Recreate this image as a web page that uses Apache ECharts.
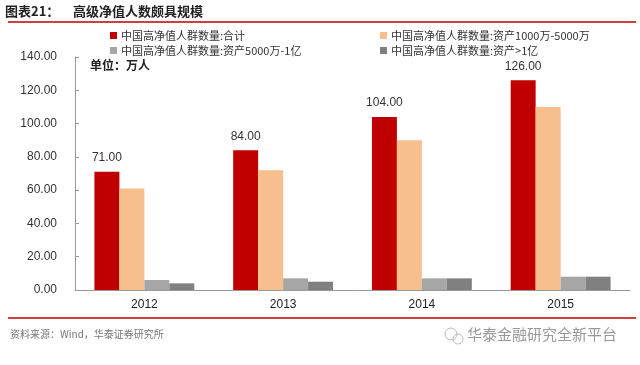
<!DOCTYPE html>
<html>
<head>
<meta charset="utf-8">
<script src="https://cdn.jsdelivr.net/npm/echarts@6/dist/echarts.min.js"></script>
<style>
html,body{margin:0;padding:0;background:#fff;}
#c{width:640px;height:365px;}
</style>
</head>
<body>
<div id="c"></div>
<script>
var categories = ['2012', '2013', '2014', '2015'];
var seriesNames = ['中国高净值人群数量:合计', '中国高净值人群数量:资产1000万-5000万', '中国高净值人群数量:资产5000万-1亿', '中国高净值人群数量:资产>1亿'];
var totalValues = [71, 84, 104, 126];
var band1000to5000 = [61, 72, 90, 110];
var band5000to1yi = [6, 7, 7, 8];
var bandAbove1yi = [4, 5, 7, 8];
var yTicks = [0, 20, 40, 60, 80, 100, 120, 140];
var colors = ['#C00000', '#F8BF8E', '#A6A6A6', '#808080'];

var chart = echarts.init(document.getElementById('c'), null, {renderer: 'canvas'});
var font = 'Liberation Sans, Arial, Noto Sans CJK SC, sans-serif';
var cjk = 'Noto Sans CJK SC, sans-serif';

function legendAt(name, left, top) {
  return {
    data: [name], left: left, top: top, itemWidth: 7, itemHeight: 7, itemGap: 4,
    icon: 'rect', padding: 0,
    textStyle: {fontSize: 11, color: '#333', fontFamily: cjk, padding: [0, 0, 0, -1]},
    selectedMode: false
  };
}

var option = {
  backgroundColor: '#fff',
  animation: false,
  color: colors,
  legend: [
    legendAt(seriesNames[0], 110, 30),
    legendAt(seriesNames[1], 380, 30),
    legendAt(seriesNames[2], 110, 45),
    legendAt(seriesNames[3], 380, 45)
  ],
  grid: {left: 75, right: 10, top: 57, bottom: 75, containLabel: false},
  xAxis: {
    type: 'category', data: categories,
    axisLine: {lineStyle: {color: '#999', width: 1}},
    axisTick: {inside: true, length: 4, lineStyle: {color: '#999'}},
    axisLabel: {color: '#222', fontSize: 12, fontFamily: font, margin: 9}
  },
  yAxis: {
    type: 'value', min: yTicks[0], max: yTicks[yTicks.length - 1], interval: 20,
    axisLine: {show: true, lineStyle: {color: '#999', width: 1}},
    axisTick: {show: true, inside: true, length: 4, lineStyle: {color: '#999'}},
    splitLine: {show: false},
    axisLabel: {color: '#333', fontSize: 12, fontFamily: font, margin: 18,
      formatter: function (v) { return v.toFixed(2); }}
  },
  series: [
    {name: seriesNames[0], type: 'bar', data: totalValues, barGap: '0%', barCategoryGap: '28%',
      label: {show: true, position: 'top', distance: 8, color: '#333', fontSize: 12, fontFamily: font,
        formatter: function (p) { return p.value.toFixed(2); }}},
    {name: seriesNames[1], type: 'bar', data: band1000to5000, barGap: '0%', barCategoryGap: '28%'},
    {name: seriesNames[2], type: 'bar', data: band5000to1yi, barGap: '0%', barCategoryGap: '28%'},
    {name: seriesNames[3], type: 'bar', data: bandAbove1yi, barGap: '0%', barCategoryGap: '28%'}
  ],
  graphic: [
    {type: 'text', left: 5, top: 5, style: {text: '图表21：', font: 'bold 13px ' + cjk, fill: '#222'}},
    {type: 'text', left: 73, top: 5, style: {text: '高级净值人数颇具规模', font: 'bold 13px ' + cjk, fill: '#222'}},
    {type: 'line', shape: {x1: 8, y1: 22, x2: 636, y2: 22}, style: {stroke: '#C00000', lineWidth: 1.5}},
    {type: 'text', left: 90, top: 59, style: {text: '单位：万人', font: 'bold 12px ' + cjk, fill: '#222'}},
    {type: 'line', shape: {x1: 8, y1: 318, x2: 636, y2: 318}, style: {stroke: '#C00000', lineWidth: 1.5}},
    {type: 'text', left: 10, top: 329, style: {text: '资料来源：Wind，华泰证券研究所', font: '10px ' + cjk, fill: '#777'}},
    {type: 'circle', shape: {cx: 451, cy: 334, r: 6}, style: {fill: 'none', stroke: '#bbb', lineWidth: 1}},
    {type: 'circle', shape: {cx: 458, cy: 339, r: 5}, style: {fill: 'none', stroke: '#bbb', lineWidth: 1}},
    {type: 'text', left: 467, top: 327, style: {text: '华泰金融研究全新平台', font: '15px ' + cjk, fill: '#999'}}
  ]
};
chart.setOption(option);
</script>
</body>
</html>
